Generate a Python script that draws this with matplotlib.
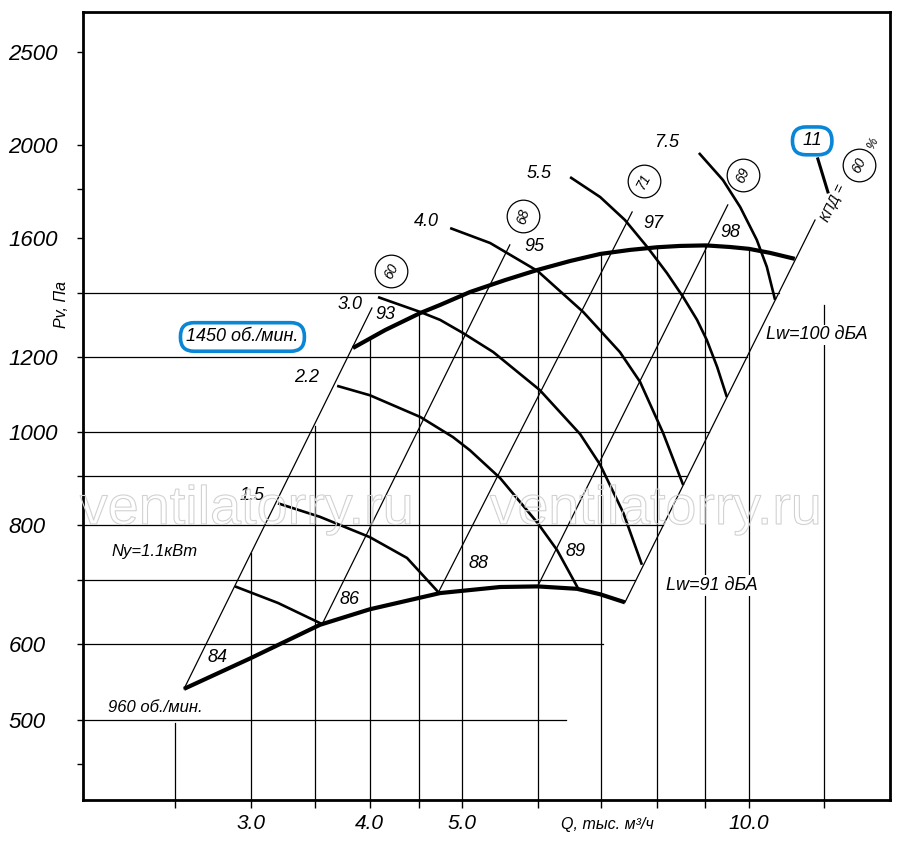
import matplotlib
matplotlib.use('Agg')
import matplotlib.pyplot as plt
import numpy as np
from matplotlib.textpath import TextPath
from matplotlib.patches import PathPatch
from matplotlib.font_manager import FontProperties
from matplotlib.transforms import Affine2D, IdentityTransform
from matplotlib.ticker import NullLocator

# fan curves: Q (тыс. м3/ч), Pv (Па)
q_960 = [2.553, 2.995, 3.546, 4.0, 4.74, 5.48, 6.0, 6.6, 6.98, 7.41]
p_960 = [539, 580, 629, 653, 679, 689, 690, 686, 677, 664]
q_1450 = [3.84, 4.15, 4.52, 4.74, 5.095, 5.546, 6.0, 6.49, 6.98, 7.5, 8.01, 8.466, 9.01, 9.55, 10.0, 10.52, 11.17]
p_1450 = [1226, 1280, 1334, 1360, 1403, 1444, 1480, 1512, 1538, 1553, 1563, 1568, 1570, 1564, 1557, 1542, 1520]

# motor power curves, кВт (1.1, 1.5, 2.2, 3.0, 4.0, 5.5, 7.5)
power_q = [
    [2.888, 3.204, 3.565],
    [3.204, 3.546, 4.0, 4.376, 4.717],
    [3.696, 4.0, 4.52, 4.89, 5.095, 5.48, 6.0, 6.29, 6.62],
    [4.08, 4.52, 4.74, 5.01, 5.39, 6.03, 6.65, 6.98, 7.38, 7.72],
    [4.857, 5.35, 6.0, 6.70, 7.32, 7.685, 8.125, 8.53],
    [6.49, 6.98, 7.41, 7.82, 8.2, 8.53, 8.82, 9.03, 9.26, 9.48],
    [8.86, 9.39, 9.79, 10.19, 10.44, 10.65],
]
power_p = [
    [690, 663, 630],
    [843, 816, 777, 739, 681],
    [1119, 1094, 1038, 989, 958, 896, 804, 753, 686],
    [1386, 1337, 1312, 1271, 1214, 1108, 996, 925, 824, 727],
    [1637, 1579, 1476, 1337, 1214, 1130, 999, 881],
    [1851, 1764, 1669, 1564, 1469, 1386, 1312, 1250, 1171, 1089],
    [1962, 1838, 1722, 1591, 1491, 1377],
]
power_labels = ['1.5', '2.2', '3.0', '4.0', '5.5', '7.5']
power_label_q = [3.01, 3.43, 3.81, 4.59, 6.02, 8.2]
power_label_p = [860, 1143, 1360, 1665, 1865, 2010]

# system lines (Lw), lower and upper ends
lw_q_lo = [2.553, 3.565, 4.717, 6.0, 7.41]
lw_p_lo = [539, 630, 679, 690, 664]
lw_q_hi = [4.02, 5.61, 7.54, 9.5, 11.73]
lw_p_hi = [1350, 1572, 1702, 1731, 1669]
lw_low_labels = ['84', '86', '88', '89']
lw_low_q = [2.77, 3.81, 5.2, 6.58]
lw_low_p = [582, 668, 730, 750]
lw_high_labels = ['93', '95', '97', '98']
lw_high_q = [4.15, 5.96, 7.93, 9.55]
lw_high_p = [1328, 1564, 1657, 1618]

# efficiency, %
eff_labels = ['60', '68', '71', '69']
eff_q = [4.21, 5.79, 7.76, 9.86]
eff_p = [1476, 1685, 1834, 1860]
eff_rot = [62, 75, 62, 65]

# grid
hgrid_p = [500, 600, 700, 800, 900, 1000, 1200, 1400]
vgrid_q = [2.5, 3.0, 3.5, 4.0, 4.5, 5.0, 6.0, 7.0, 8.0, 9.0, 10.0, 12.0]
vgrid_top = [497, 747, 1017, 1252, 1331, 1395, 1480, 1538, 1563, 1570, 1557, 1360]

x_ticks = [2.5, 3.0, 3.5, 4.0, 4.5, 5.0, 6.0, 7.0, 8.0, 9.0, 10.0, 12.0]
x_ticklabels = ['', '3.0', '', '4.0', '', '5.0', '', '', '', '', '10.0', '']
y_ticks = [450, 500, 600, 700, 800, 900, 1000, 1200, 1400, 1600, 1800, 2000, 2500]
y_ticklabels = ['', '500', '600', '', '800', '', '1000', '1200', '', '1600', '', '2000', '2500']

FONT = 'Liberation Sans'
BLUE = '#0a86d6'

fig = plt.figure(figsize=(9, 8.56), dpi=100)
ax = fig.add_axes([83 / 900, 56 / 856, 807 / 900, 788 / 856])
ax.set_xscale('log')
ax.set_yscale('log')
ax.set_xlim(2.0, 14.06)
ax.set_ylim(412.3, 2756)

# grid lines bounded by the last system line
k_end = lw_p_hi[-1] / lw_q_hi[-1] ** 2
for p in hgrid_p:
    ax.plot([2.0, np.sqrt(p / k_end)], [p, p], color='black', lw=0.9, zorder=1)
for q, top in zip(vgrid_q, vgrid_top):
    ax.plot([q, q], [412.3, top], color='black', lw=0.9, zorder=1)

for i in range(len(lw_q_lo)):
    ax.plot([lw_q_lo[i], lw_q_hi[i]], [lw_p_lo[i], lw_p_hi[i]], color='black', lw=0.9, zorder=2)

for qs, ps in zip(power_q, power_p):
    ax.plot(qs, ps, color='black', lw=1.9, zorder=3, solid_capstyle='butt', solid_joinstyle='round')

ax.plot(q_960, p_960, color='black', lw=3.0, zorder=4, solid_capstyle='butt', solid_joinstyle='round')
ax.plot(q_1450, p_1450, color='black', lw=3.0, zorder=4, solid_capstyle='butt', solid_joinstyle='round')

lab = dict(fontfamily=FONT, style='italic', ha='center', va='center', zorder=6)
for s, q, p in zip(power_labels, power_label_q, power_label_p):
    ax.text(q, p, s, fontsize=13, **lab)
for s, q, p in zip(lw_low_labels + lw_high_labels, lw_low_q + lw_high_q, lw_low_p + lw_high_p):
    ax.text(q, p, s, fontsize=13, **lab)

for s, q, p, r in zip(eff_labels, eff_q, eff_p, eff_rot):
    ax.plot(q, p, 'o', ms=23.5, mfc='white', mec='black', mew=0.9, zorder=6)
    ax.text(q, p, s, fontsize=10, rotation=r, rotation_mode='anchor', **lab)

ax.text(2.94, 1259, '1450 об./мин.', fontsize=13,
        bbox=dict(boxstyle='round,pad=0.32,rounding_size=0.75', fc='white', ec=BLUE, lw=2.6), **lab)
ax.text(2.38, 515, '960 об./мин.', fontsize=12, **lab)
ax.text(2.38, 750, 'Ny=1.1кВт', fontsize=12, **lab)
ax.text(11.79, 1265, 'Lw=100 дБА', fontsize=13,
        bbox=dict(boxstyle='square,pad=0.1', fc='white', ec='none'), **lab)
ax.text(9.15, 692, 'Lw=91 дБА', fontsize=13,
        bbox=dict(boxstyle='square,pad=0.1', fc='white', ec='none'), **lab)

# efficiency legend
ax.text(11.65, 2020, ' 11 ', fontsize=13,
        bbox=dict(boxstyle='round,pad=0.3,rounding_size=0.75', fc='white', ec=BLUE, lw=2.6), **lab)
ax.plot([11.81, 12.1], [1934, 1786], color='black', lw=2.2, zorder=6)
ax.text(12.25, 1739, 'КПД =', fontsize=10, rotation=64, rotation_mode='anchor', **lab)
ax.plot(13.04, 1906, 'o', ms=23.5, mfc='white', mec='black', mew=0.9, zorder=6)
ax.text(13.04, 1906, '60', fontsize=10, rotation=64, rotation_mode='anchor', **lab)
ax.text(13.49, 2005, '%', fontsize=9, rotation=64, rotation_mode='anchor', **lab)

# axes styling
for side in ['left', 'bottom', 'right', 'top']:
    ax.spines[side].set_linewidth(2.0)
ax.set_xticks(x_ticks, x_ticklabels)
ax.set_yticks(y_ticks, y_ticklabels)
ax.xaxis.set_minor_locator(NullLocator())
ax.yaxis.set_minor_locator(NullLocator())
ax.tick_params(axis='x', length=5.8, width=1.0, pad=4, labelsize=15)
ax.tick_params(axis='y', length=4.3, width=1.0, pad=49.5, labelsize=16)
for t in ax.get_xticklabels() + ax.get_yticklabels():
    t.set_fontfamily(FONT)
    t.set_fontstyle('italic')
for t in ax.get_yticklabels():
    t.set_horizontalalignment('left')

fig.text(62 / 900, 1 - 305 / 856, 'Pv, Па', rotation=90, fontsize=11.5,
         fontfamily=FONT, style='italic', ha='center', va='center')
fig.text(607 / 900, 1 - 825 / 856, 'Q, тыс. м³/ч', fontsize=11.5,
         fontfamily=FONT, style='italic', ha='center', va='center')

# outlined watermark
def watermark(x_left, baseline, width):
    tp = TextPath((0, 0), 'ventilatorry.ru', size=54, prop=FontProperties(family=FONT))
    ext = tp.get_extents()
    tr = Affine2D().translate(-ext.x0, 0).scale(width / ext.width, 1).translate(x_left, 856 - baseline)
    fig.add_artist(PathPatch(tr.transform_path(tp), fc='none', ec='#d2d2d2', lw=0.8,
                             transform=IdentityTransform(), zorder=5))

watermark(80, 524, 330)
watermark(490, 524, 328)

fig.savefig('out.png', dpi=100)
